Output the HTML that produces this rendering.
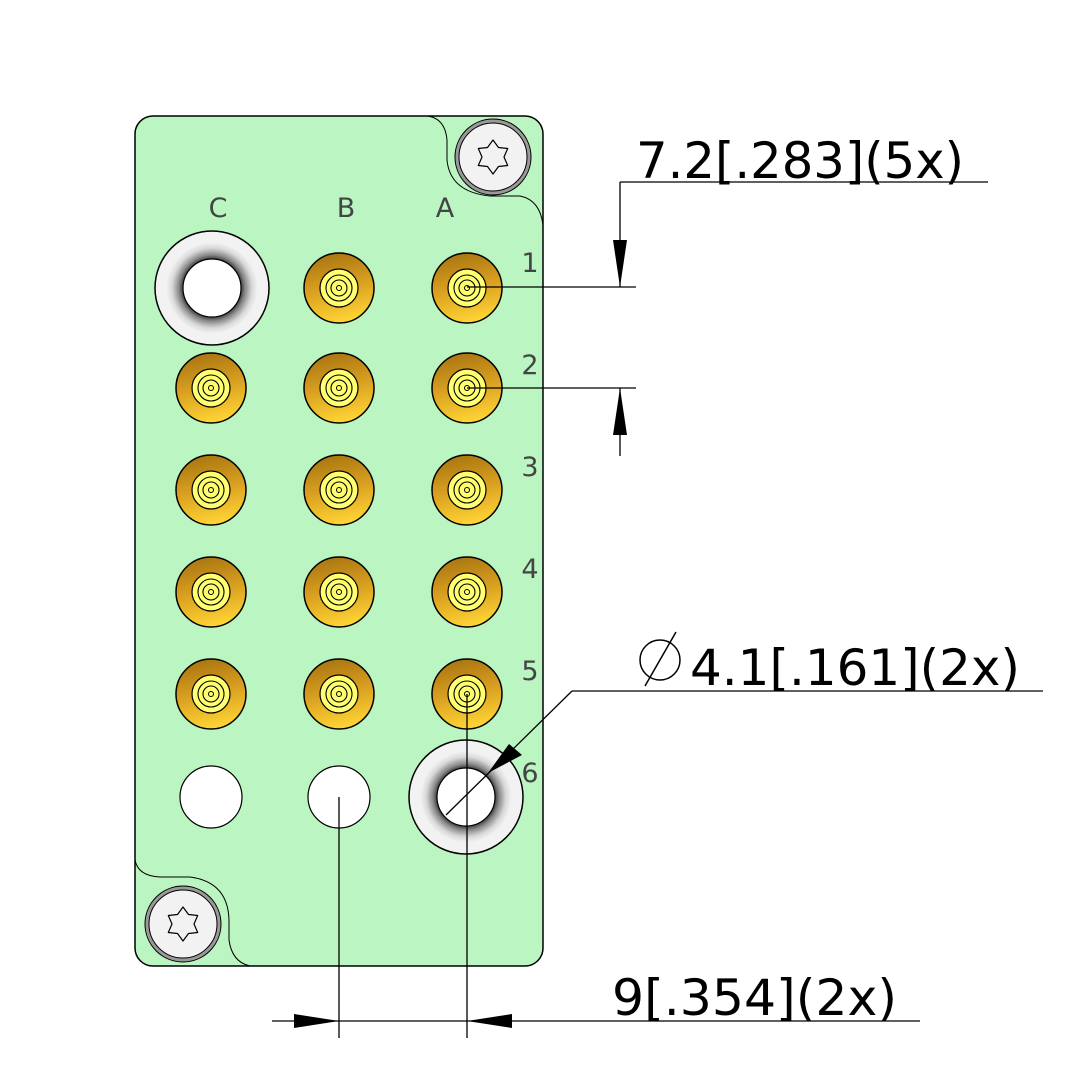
<!DOCTYPE html>
<html><head><meta charset="utf-8"><style>html,body{margin:0;padding:0;background:#fff}svg{display:block}</style></head>
<body>
<svg width="1083" height="1083" viewBox="0 0 1083 1083" xmlns="http://www.w3.org/2000/svg" font-family="'DejaVu Sans','Liberation Sans',sans-serif">
<defs>
<linearGradient id="gold" x1="0.3" y1="0" x2="0.5" y2="1">
<stop offset="0" stop-color="#a87410"/><stop offset="0.5" stop-color="#d9a020"/><stop offset="1" stop-color="#ffd535"/>
</linearGradient>
<radialGradient id="wash" cx="50%" cy="50%" r="50%">
<stop offset="0.5" stop-color="#333"/><stop offset="0.58" stop-color="#888"/><stop offset="0.7" stop-color="#d8d8d8"/><stop offset="0.8" stop-color="#f2f2f2"/><stop offset="1" stop-color="#f2f2f2"/>
</radialGradient>
<g id="pin">
<circle r="35" fill="url(#gold)" stroke="#000" stroke-width="1.5"/>
<circle r="19" fill="#ffff70" stroke="#000" stroke-width="1.2"/>
<circle r="13" fill="none" stroke="#000" stroke-width="1.1"/>
<circle r="8" fill="none" stroke="#000" stroke-width="1.1"/>
<circle r="2.5" fill="none" stroke="#000" stroke-width="1"/>
</g>
<g id="washer">
<circle r="57" fill="url(#wash)" stroke="#000" stroke-width="1.5"/>
<circle r="29" fill="#fff" stroke="#000" stroke-width="1.2"/>
</g>
<g id="screw">
<circle r="38" fill="#999" stroke="#000" stroke-width="1"/>
<circle r="34" fill="#f2f2f2" stroke="#000" stroke-width="1"/>
<polygon points="0,-17 5.5,-9.5 14.7,-8.5 11,0 14.7,8.5 5.5,9.5 0,17 -5.5,9.5 -14.7,8.5 -11,0 -14.7,-8.5 -5.5,-9.5" fill="#f2f2f2" stroke="#000" stroke-width="1.2" stroke-linejoin="round"/>
</g>
</defs>
<rect x="135" y="116" width="408" height="850" rx="18" fill="#baf5c2" stroke="#000" stroke-width="1.5"/>
<path d="M427,116 Q445,118 447,140 L447,160 Q450,192 490,196 L520,196 Q540,200 543,225" fill="none" stroke="#000" stroke-width="1"/>
<path d="M135,860 Q138,876 160,877 L190,877 Q228,882 229,920 L229,940 Q232,962 250,966" fill="none" stroke="#000" stroke-width="1"/>
<use href="#screw" x="493" y="157"/>
<use href="#screw" x="183" y="924"/>
<g font-size="27" fill="#444" text-anchor="middle">
<text x="218" y="217">C</text><text x="346" y="217">B</text><text x="445" y="217">A</text>
<text x="530" y="272">1</text><text x="530" y="374">2</text><text x="530" y="476">3</text><text x="530" y="578">4</text><text x="530" y="680">5</text><text x="530" y="782">6</text>
</g>
<use href="#washer" x="212" y="288"/>
<use href="#pin" x="339" y="288"/><use href="#pin" x="467" y="288"/>
<use href="#pin" x="211" y="388"/><use href="#pin" x="339" y="388"/><use href="#pin" x="467" y="388"/>
<use href="#pin" x="211" y="490"/><use href="#pin" x="339" y="490"/><use href="#pin" x="467" y="490"/>
<use href="#pin" x="211" y="592"/><use href="#pin" x="339" y="592"/><use href="#pin" x="467" y="592"/>
<use href="#pin" x="211" y="694"/><use href="#pin" x="339" y="694"/><use href="#pin" x="467" y="694"/>
<circle cx="211" cy="797" r="31" fill="#fff" stroke="#000" stroke-width="1.2"/>
<circle cx="339" cy="797" r="31" fill="#fff" stroke="#000" stroke-width="1.2"/>
<use href="#washer" x="466" y="797"/>
<g stroke="#000" stroke-width="1.3" fill="none">
<line x1="620" y1="182" x2="988" y2="182"/>
<line x1="620" y1="182" x2="620" y2="287"/>
<line x1="467" y1="287" x2="636" y2="287"/>
<line x1="467" y1="388" x2="636" y2="388"/>
<line x1="620" y1="388" x2="620" y2="456"/>
<line x1="572" y1="691" x2="1043" y2="691"/>
<line x1="572" y1="691" x2="446" y2="815"/>
<line x1="272" y1="1021" x2="920" y2="1021"/>
<line x1="339" y1="797" x2="339" y2="1038"/>
<line x1="467" y1="694" x2="467" y2="1038"/>
</g>
<g fill="#000">
<polygon points="620,287 613,240 627,240"/>
<polygon points="620,388 613,435 627,435"/>
<polygon points="488,773 509,744 522,755"/>
<polygon points="339,1021 294,1014 294,1028"/>
<polygon points="467,1021 512,1014 512,1028"/>
</g>
<g font-size="50" fill="#000" font-family="'DejaVu Sans',sans-serif">
<text x="636" y="178" textLength="328" lengthAdjust="spacingAndGlyphs">7.2[.283](5x)</text>
<text x="690" y="685" textLength="330" lengthAdjust="spacingAndGlyphs">4.1[.161](2x)</text>
<text x="612" y="1015" textLength="285" lengthAdjust="spacingAndGlyphs">9[.354](2x)</text>
</g>
<circle cx="660" cy="660" r="20" fill="none" stroke="#000" stroke-width="1.5"/>
<line x1="676" y1="632" x2="645" y2="686" stroke="#000" stroke-width="1.5"/>
</svg>
</body></html>
